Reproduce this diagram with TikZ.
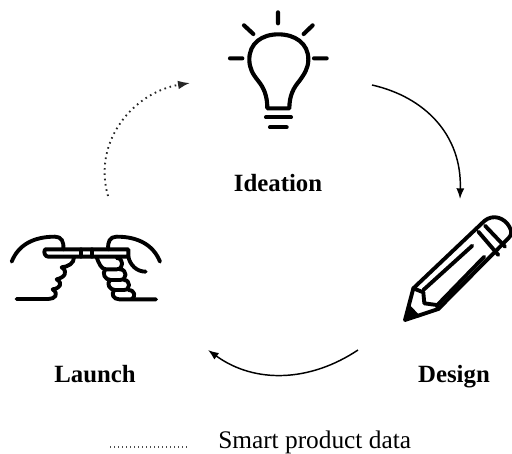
\documentclass[tikz,border=0pt]{standalone}
\usepackage{fontspec}
\setmainfont{Liberation Serif}
\usetikzlibrary{arrows.meta}
\tikzset{
 lab/.style={font=\fontsize{18.6}{20}\selectfont\bfseries,text=black,inner sep=0pt,anchor=base},
 legendlab/.style={font=\fontsize{19}{20}\selectfont,text=black,inner sep=0pt,anchor=base west},
 icon/.style={draw=black,line width=3.1pt,line cap=round,line join=round},
 thin icon/.style={draw=black,line width=2.9pt,line cap=round,line join=round},
 flow/.style={draw=black,line width=1.1pt,-{Latex[length=8pt,width=6pt]}},
 dotflow/.style={draw=black!85,line width=1.4pt,dash pattern=on 1.2pt off 2.8pt,-{Latex[length=9pt,width=6.5pt]}},
}
\begin{document}
\begin{tikzpicture}[x=0.75pt,y=-0.75pt]
\useasboundingbox (0,0) rectangle (512,454);
% bulb
\begin{scope}[shift={(210,0)},x=0.25pt,y=-0.25pt]
\draw[icon] (172,325) .. controls (172,285) and (160,262) .. (145,243) .. controls (128,222) and (118,205) .. (118,178) .. controls (118,130) and (155,103) .. (205,103) .. controls (255,103) and (295,130) .. (295,178) .. controls (295,205) and (283,222) .. (268,243) .. controls (252,262) and (238,285) .. (238,325) -- cycle;
\draw[icon] (168,352) -- (243,352) (180,382) -- (230,382);
\draw[icon] (204,37) -- (204,70) (102,76) -- (130,102) (308,76) -- (281,102) (60,175) -- (97,175) (312,175) -- (350,175);
\end{scope}
% hands
\begin{scope}[shift={(0,220)},x=0.25pt,y=-0.25pt]
\draw[thin icon] (35,125) .. controls (55,75) and (100,50) .. (165,50) .. controls (185,50) and (192,65) .. (190,88);
\draw[thin icon] (480,125) .. controls (460,75) and (415,50) .. (350,50) .. controls (330,50) and (322,65) .. (325,88);
\draw[thin icon] (135,88) -- (385,88) -- (385,110) -- (145,110) .. controls (135,110) and (130,98) .. (135,88);
\draw[thin icon] (243,88) -- (243,110) (275,88) -- (275,110);
\draw[thin icon] (385,110) .. controls (390,135) and (410,155) .. (437,155);
\draw[thin icon] (222,112) .. controls (222,130) and (205,140) .. (185,142) .. controls (205,155) and (195,172) .. (170,178) .. controls (190,190) and (180,205) .. (158,208) .. controls (178,222) and (165,237) .. (145,237) -- (50,237);
\draw[thin icon] (290,112) .. controls (296,128) and (303,148) .. (318,148) -- (350,148) .. controls (372,148) and (372,114) .. (350,114);
\draw[thin icon] (316,148) .. controls (305,160) and (315,180) .. (332,180) -- (360,180) .. controls (382,180) and (382,148) .. (360,148);
\draw[thin icon] (330,180) .. controls (318,192) and (330,210) .. (345,210) -- (372,210) .. controls (392,210) and (392,180) .. (372,180);
\draw[thin icon] (343,210) .. controls (332,222) and (340,238) .. (358,238) -- (468,238);
\draw[thin icon] (385,210) .. controls (405,210) and (408,230) .. (395,238);
\end{scope}
% pencil
\begin{scope}[shift={(395,205)},x=0.25pt,y=-0.25pt]
\draw[thin icon] (30,345) -- (55,250) -- (268,48) .. controls (295,25) and (330,40) .. (343,65) .. controls (352,80) and (350,90) .. (340,100) -- (130,312) -- cycle;
\draw[thin icon] (250,80) -- (310,150) (270,62) -- (330,125);
\draw[thin icon] (85,255) -- (232,122) (130,297) -- (268,155);
\draw[thin icon] (55,250) -- (85,262) -- (88,295) -- (125,300) -- (130,312);
\fill[black] (28,348) -- (42,298) -- (78,335) -- cycle;
\end{scope}
% labels
\node[lab] (ideation) at (278,191) {Ideation};
\node[lab] (design) at (454,382.5) {Design};
\node[lab] (launch) at (95,382.5) {Launch};
\node[legendlab] (legend) at (218,448) {Smart product data};
% connectors
\coordinate (a1) at (372,85);
\coordinate (a2) at (460,199);
\coordinate (b1) at (358,350);
\coordinate (b2) at (208,350);
\coordinate (c1) at (108,196);
\coordinate (c2) at (190,83);
\coordinate (d1) at (110,447);
\coordinate (d2) at (187,447);
\draw[flow] (a1) .. controls (425,97) and (462,135) .. (a2);
\draw[flow] (b1) .. controls (310,382) and (255,384) .. (b2);
\draw[dotflow] (c1) .. controls (92,140) and (135,92) .. (c2);
\draw[draw=black!70,line width=0.9pt,dash pattern=on 1pt off 2pt] (d1) -- (d2);
\end{tikzpicture}
\end{document}
